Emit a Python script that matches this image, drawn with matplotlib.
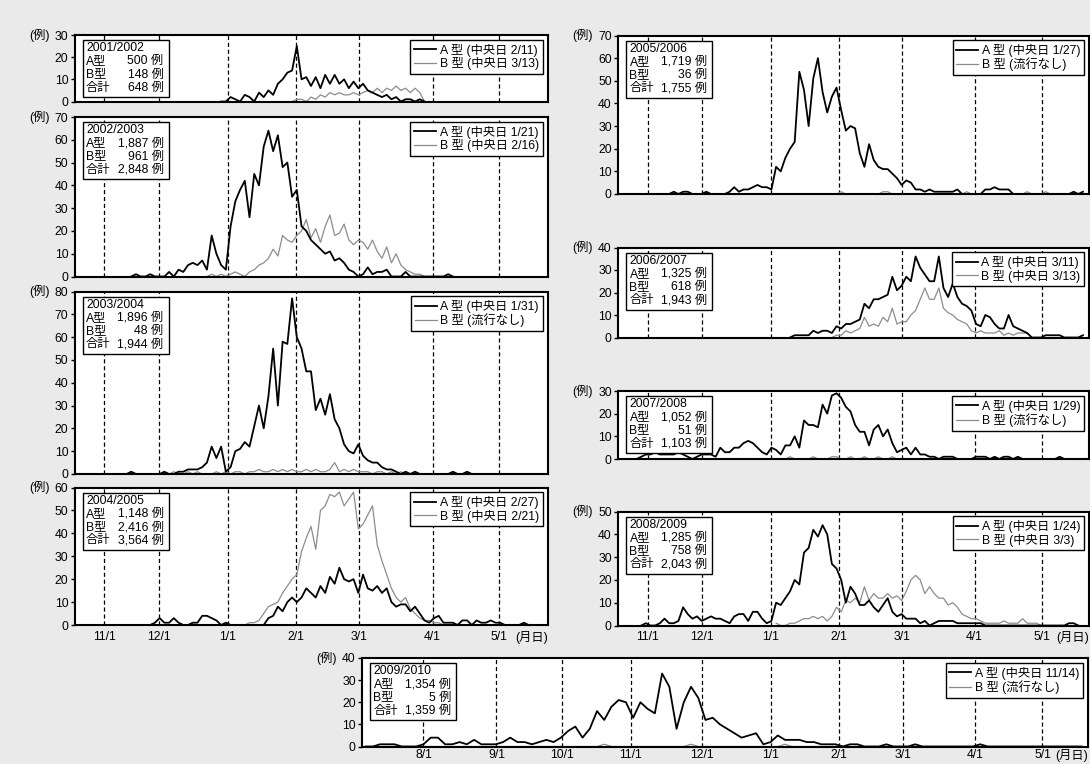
import numpy as np
import matplotlib
matplotlib.use('Agg')
import matplotlib.pyplot as plt
from matplotlib.patches import Rectangle
from matplotlib.transforms import ScaledTranslation

plt.rcParams['font.family'] = ['Liberation Sans', 'Noto Sans CJK JP']
plt.rcParams['lines.scale_dashes'] = False

W, H, DPI = 1090, 764, 100

# x axis unit: 1/100 of the panel width (daily counts read every ~2 days)
# each series: first x position, then the counts
seasons = ['2001/2002', '2002/2003', '2003/2004', '2004/2005', '2005/2006',
           '2006/2007', '2007/2008', '2008/2009', '2009/2010']
a_total = [500, 1887, 1896, 1148, 1719, 1325, 1052, 1285, 1354]
b_total = [148, 961, 48, 2416, 36, 618, 51, 758, 5]
a_centre = ['中央日 2/11', '中央日 1/21', '中央日 1/31', '中央日 2/27', '中央日 1/27',
            '中央日 3/11', '中央日 1/29', '中央日 1/24', '中央日 11/14']
b_centre = ['中央日 3/13', '中央日 2/16', '流行なし', '中央日 2/21', '流行なし',
            '中央日 3/13', '流行なし', '中央日 3/3', '流行なし']
ymax = [30, 70, 80, 60, 70, 40, 30, 50, 40]

a01_x0 = 31
a01 = [0, 0, 2, 1, 0, 3, 2, 0, 4, 2, 5, 3, 8, 10, 13, 14, 25, 10, 11, 7, 11, 6, 12, 8,
       12, 8, 10, 6, 9, 6, 8, 5, 4, 3, 2, 3, 1, 2, 0, 1, 1, 0, 1, 0]
b01_x0 = 46
b01 = [0, 1, 1, 0, 2, 1, 3, 2, 4, 3, 4, 3, 3, 4, 3, 4, 5, 4, 6, 4, 6, 5, 7, 5, 6, 4,
       6, 4, 0]

a02_x0 = 12
a02 = [0, 1, 0, 0, 1, 0, 0, 0, 2, 0, 3, 2, 5, 6, 5, 7, 3, 18, 10, 5, 3, 22, 33, 38, 42,
       26, 45, 40, 57, 64, 55, 62, 48, 50, 35, 38, 22, 20, 16, 14, 12, 10, 11, 7, 8, 6,
       3, 2, 0, 1, 4, 1, 2, 2, 3, 0, 0, 0, 2, 0, 0, 0, 0, 0, 0, 0, 0, 1, 0]
b02_x0 = 28
b02 = [0, 1, 0, 1, 0, 1, 2, 1, 0, 2, 3, 5, 6, 8, 12, 9, 18, 16, 15, 18, 20, 25, 17, 21,
       15, 22, 27, 18, 19, 23, 16, 14, 16, 15, 12, 16, 11, 8, 13, 6, 10, 5, 3, 2, 1, 1, 0]

a03_x0 = 11
a03 = [0, 1, 0, 0, 0, 0, 0, 0, 1, 0, 0, 1, 1, 2, 2, 2, 3, 5, 12, 7, 12, 1, 3, 10, 11,
       14, 12, 21, 30, 20, 34, 55, 30, 58, 57, 77, 60, 55, 45, 45, 28, 33, 26, 35, 24,
       20, 13, 10, 9, 13, 8, 6, 5, 5, 3, 2, 2, 1, 0, 1, 0, 1, 0, 0, 0, 0, 0, 0, 0, 1, 0,
       0, 1, 0]
b03_x0 = 20
b03 = [0, 1, 0, 0, 1, 0, 1, 0, 0, 0, 1, 0, 1, 0, 1, 1, 0, 1, 1, 2, 1, 1, 2, 1, 2, 1, 2,
       1, 1, 2, 1, 2, 1, 1, 2, 5, 1, 2, 1, 2, 1, 1, 1, 0, 1, 1, 0, 1, 0, 1, 0, 0]

a04_x0 = 8
a04 = [0, 0, 0, 0, 0, 0, 0, 0, 0, 1, 3, 1, 1, 3, 1, 0, 0, 1, 1, 4, 4, 3, 2, 0, 1, 0, 0,
       0, 0, 0, 0, 0, 0, 3, 4, 8, 6, 10, 12, 10, 12, 16, 14, 12, 17, 14, 21, 18, 25, 20,
       19, 20, 14, 22, 16, 15, 17, 14, 16, 10, 8, 9, 9, 6, 8, 5, 2, 1, 3, 4, 1, 1, 1, 0,
       2, 2, 0, 2, 1, 1, 2, 1, 1, 0, 0, 0, 0, 1, 0]
b04_x0 = 36
b04 = [0, 1, 1, 2, 5, 8, 9, 10, 14, 17, 20, 22, 32, 38, 43, 33, 50, 52, 57, 56, 58, 52,
       55, 58, 42, 44, 48, 52, 35, 28, 22, 16, 12, 10, 12, 7, 5, 3, 2, 2, 1, 1, 0]

a05_x0 = 11
a05 = [0, 1, 0, 1, 1, 0, 0, 0, 1, 0, 0, 0, 0, 1, 3, 1, 2, 2, 3, 4, 3, 3, 2, 12, 10, 16,
       20, 23, 54, 46, 30, 51, 60, 45, 36, 43, 47, 37, 28, 30, 29, 18, 12, 22, 15, 12,
       11, 11, 9, 7, 4, 6, 5, 2, 2, 1, 2, 1, 1, 1, 1, 1, 2, 0, 0, 0, 0, 0, 2, 2, 3, 2, 2,
       2, 0, 0, 0, 0, 0, 0, 0, 0, 0, 0, 0, 0, 0, 1, 0, 1]
b05_x0 = 40
b05 = [0, 0, 0, 0, 0, 0, 0, 0, 1, 0, 0, 0, 0, 0, 0, 0, 0, 1, 1, 0, 0, 0, 0, 0, 0, 0, 0,
       0, 0, 0, 0, 0, 0, 0, 0, 1, 0, 0, 0, 0, 0, 0, 0, 0, 0, 0, 0, 0, 1, 0, 0, 0, 1, 0]

a06_x0 = 37
a06 = [0, 1, 1, 1, 1, 3, 2, 3, 3, 2, 5, 4, 6, 6, 7, 8, 15, 13, 17, 17, 18, 19, 27, 21,
       23, 27, 25, 36, 31, 28, 25, 25, 36, 22, 18, 24, 18, 15, 14, 12, 6, 5, 10, 9, 6, 4,
       4, 10, 5, 4, 3, 2, 0, 0, 0, 1, 1, 1, 1, 0, 0, 0, 0, 1]
b06_x0 = 46
b06 = [0, 1, 1, 3, 2, 3, 4, 9, 5, 6, 5, 9, 7, 13, 6, 7, 7, 10, 12, 17, 22, 17, 17, 22,
       13, 11, 10, 8, 7, 6, 3, 2, 3, 2, 2, 2, 3, 1, 2, 1, 2, 2, 2, 0]

a07_x0 = 0
a07 = [0, 0, 0, 0, 0, 1, 2, 2, 3, 2, 2, 2, 2, 3, 2, 1, 0, 1, 2, 2, 2, 1, 5, 3, 3, 5, 5,
       7, 8, 7, 5, 3, 2, 5, 4, 2, 6, 6, 10, 5, 17, 15, 15, 14, 24, 20, 28, 29, 27, 23,
       21, 15, 12, 12, 6, 13, 15, 10, 13, 7, 3, 4, 5, 2, 5, 2, 2, 1, 1, 0, 1, 1, 1, 0, 0,
       0, 0, 1, 1, 1, 0, 1, 0, 1, 1, 0, 1, 0, 0, 0, 0, 0, 0, 0, 0, 1, 0]
b07_x0 = 36
b07 = [0, 1, 0, 0, 0, 0, 1, 0, 0, 0, 1, 1, 0, 0, 1, 0, 0, 1, 0, 0, 1, 0, 0, 1, 0]

a08_x0 = 5
a08 = [0, 1, 0, 0, 1, 3, 1, 1, 2, 8, 5, 3, 4, 2, 3, 4, 3, 3, 2, 1, 4, 5, 5, 2, 6, 6, 3,
       1, 2, 10, 9, 12, 15, 20, 18, 32, 34, 42, 39, 44, 40, 27, 25, 20, 10, 17, 14, 9, 9,
       11, 8, 6, 9, 12, 6, 4, 5, 3, 3, 3, 1, 2, 0, 1, 2, 2, 2, 2, 1, 1, 1, 1, 1, 1, 0, 0,
       0, 0, 0, 0, 0, 0, 0, 0, 0, 0, 0, 0, 0, 0, 0, 0, 1, 1, 0]
b08_x0 = 34
b08 = [1, 0, 0, 1, 1, 2, 3, 3, 4, 3, 4, 2, 4, 8, 6, 11, 10, 12, 10, 17, 11, 14, 12, 12,
       14, 12, 13, 11, 15, 20, 22, 20, 14, 17, 14, 12, 12, 9, 10, 8, 5, 4, 3, 3, 2, 1, 1,
       1, 1, 2, 1, 1, 1, 3, 1, 1, 1, 0]

a09_x0 = 0
a09 = [0, 0, 1, 1, 1, 0, 0, 0, 1, 4, 4, 1, 1, 2, 1, 3, 1, 1, 1, 2, 4, 2, 2, 1, 2, 3, 2,
       4, 7, 9, 4, 8, 16, 12, 18, 21, 20, 13, 20, 17, 15, 33, 27, 8, 20, 27, 22, 12, 13,
       10, 8, 6, 4, 5, 6, 1, 2, 5, 3, 3, 3, 2, 2, 1, 1, 1, 0, 1, 1, 0, 0, 0, 1, 0, 0, 0,
       1, 0, 0, 0, 0, 0, 0, 0, 0, 1, 0, 0, 0, 0, 0, 0, 0, 0, 0, 0, 0, 0, 0, 0]
b09_x0 = 0
b09 = [0] * 33 + [1] + [0] * 11 + [1] + [0] * 12 + [1] + [0] * 41

a_series = [(a01_x0, a01), (a02_x0, a02), (a03_x0, a03), (a04_x0, a04), (a05_x0, a05),
            (a06_x0, a06), (a07_x0, a07), (a08_x0, a08), (a09_x0, a09)]
b_series = [(b01_x0, b01), (b02_x0, b02), (b03_x0, b03), (b04_x0, b04), (b05_x0, b05),
            (b06_x0, b06), (b07_x0, b07), (b08_x0, b08), (b09_x0, b09)]

# month marks (same x unit)
left_ticks = [6.3, 17.9, 32.4, 46.9, 60.2, 75.7, 89.8]
right_ticks = [6.4, 18.0, 32.8, 47.5, 61.0, 76.7, 91.1]
season_labels = ['11/1', '12/1', '1/1', '2/1', '3/1', '4/1', '5/1']
bottom_ticks = [8.0, 18.1, 27.2, 36.7, 46.5, 56.0, 65.5, 74.3, 84.3, 93.6]
bottom_labels = ['8/1', '9/1', '10/1', '11/1', '12/1', '1/1', '2/1', '3/1', '4/1', '5/1']

# panel boxes in pixels: x0, x1, top, bottom, xlim
panels = [
    (74.5, 547.5, 35, 101.5, (0, 100)),
    (74.5, 547.5, 117, 276.5, (0, 100)),
    (74.5, 547.5, 291.5, 474, (0, 100)),
    (74.5, 547.5, 487.5, 625, (0, 100)),
    (618, 1089, 35.5, 194, (0, 101.3)),
    (618, 1089, 247.5, 337.5, (0, 101.3)),
    (618, 1089, 391, 459, (0, 101.3)),
    (618, 1089, 511.5, 625.5, (0, 101.3)),
    (362, 1088, 658, 746.5, (-0.5, 99.9)),
]

FS = 8.8
fig = plt.figure(figsize=(W / DPI, H / DPI), dpi=DPI)
fig.patch.set_facecolor('#eaeaea')

for i, (x0, x1, yt, yb, xl) in enumerate(panels):
    ax = fig.add_axes([x0 / W, 1 - yb / H, (x1 - x0) / W, (yb - yt) / H])
    ax.set_facecolor('white')
    if i == 8:
        ticks, labels = bottom_ticks, bottom_labels
    elif i < 4:
        ticks, labels = left_ticks, season_labels
    else:
        ticks, labels = right_ticks, season_labels

    for t in ticks:
        ax.axvline(t, color='black', lw=0.9, ls=(0, (3, 2)), zorder=1)

    bx0, bv = b_series[i]
    lb, = ax.plot(bx0 + np.arange(len(bv)), bv, color='#8c8c8c', lw=0.9, zorder=2,
                  label='B 型 (' + b_centre[i] + ')')
    ax0, av = a_series[i]
    la, = ax.plot(ax0 + np.arange(len(av)), av, color='black', lw=1.3, zorder=3,
                  label='A 型 (' + a_centre[i] + ')')

    ax.set_xlim(*xl)
    ax.set_ylim(0, ymax[i])
    ax.set_yticks(np.arange(0, ymax[i] + 1, 10))
    ax.set_xticks(ticks)
    pad = 1.5 if i == 8 else 4
    if i in (3, 7, 8):
        ax.set_xticklabels(labels)
        ax.annotate('(月日)', xy=(1, 0), xycoords='axes fraction', xytext=(0, -pad),
                    textcoords='offset points', ha='right', va='top', fontsize=FS)
    else:
        ax.set_xticklabels([])
    ax.tick_params(axis='x', length=0, pad=pad, labelsize=FS)
    ax.tick_params(axis='y', direction='out', length=3, width=1, pad=1.5, labelsize=FS)
    for s in ax.spines.values():
        s.set_linewidth(1.5)
    ax.annotate('(例)', xy=(0, 1), xycoords='axes fraction', xytext=(-18, 0),
                textcoords='offset points', ha='right', va='center', fontsize=FS)

    # season box, sizes in pixels from the top-left corner
    tr = fig.dpi_scale_trans + ScaledTranslation(0, 1, ax.transAxes)
    bx, by, bw, bh = 8, 5, 86, 57
    ax.add_patch(Rectangle((bx / DPI, -(by + bh) / DPI), bw / DPI, bh / DPI, transform=tr,
                           facecolor='white', edgecolor='black', lw=1.0, zorder=4))
    rows = [(seasons[i], ''),
            ('A型', f'{a_total[i]:,} 例'),
            ('B型', f'{b_total[i]:,} 例'),
            ('合計', f'{a_total[i] + b_total[i]:,} 例')]
    for k, (lt, rt) in enumerate(rows):
        yy = -(by + 8 + k * 13.3) / DPI
        ax.text((bx + 3.5) / DPI, yy, lt, transform=tr, ha='left', va='center',
                fontsize=FS, zorder=5)
        if rt:
            ax.text((bx + bw - 5) / DPI, yy, rt, transform=tr, ha='right', va='center',
                    fontsize=FS, zorder=5)

    leg = ax.legend([la, lb], [la.get_label(), lb.get_label()], loc='upper right',
                    fontsize=FS, fancybox=False, edgecolor='black', framealpha=1,
                    borderaxespad=0.4, handlelength=1.8, handletextpad=0.3,
                    borderpad=0.3, labelspacing=0.05)
    leg.get_frame().set_linewidth(1.0)
    leg.set_zorder(6)

fig.savefig('out.png', dpi=DPI, facecolor=fig.get_facecolor())
